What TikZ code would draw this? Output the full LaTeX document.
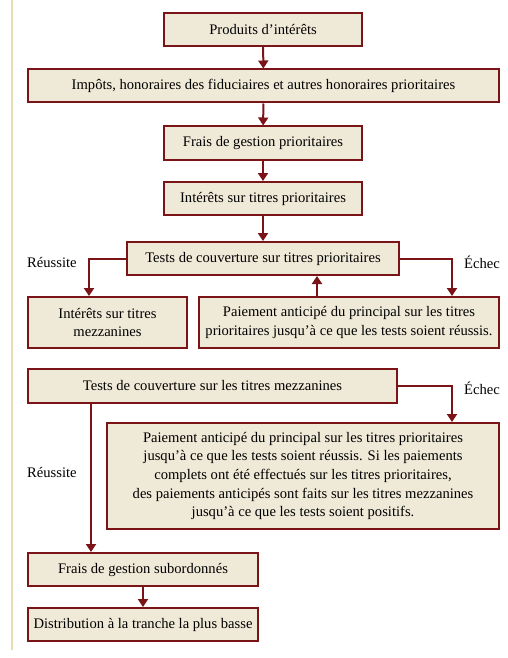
\documentclass[tikz,border=0pt]{standalone}
\usepackage{fontspec}
\setmainfont{Liberation Serif}
\usetikzlibrary{arrows.meta}
\definecolor{cadre}{HTML}{7A1416}
\definecolor{fond}{HTML}{EFE9D7}
\definecolor{marge}{HTML}{E8DCB5}
\tikzstyle{bloc} = [rectangle, draw=cadre, fill=fond, line width=2pt, align=center, inner sep=0pt, minimum height=33pt, font=\fontsize{14.6}{18.7}\selectfont]
\tikzstyle{fleche} = [line width=2pt, draw=cadre, -{Triangle[width=10pt,length=8pt]}]
\tikzstyle{etiq} = [inner sep=0pt, font=\fontsize{14.6}{16}\selectfont]

\begin{document}
\begin{tikzpicture}[x=1pt, y=-1pt]
    \useasboundingbox (0,0) rectangle (507,658);
    \draw [marge, line width=2pt] (11.5,0) -- (11.5,650);
    % colonne du haut
    \node (prod) [bloc, minimum width=198pt] at (263,29.5) {Produits d'intérêts};
    \node (impots) [bloc, minimum width=471pt] at (263.5,86) {Impôts, honoraires des fiduciaires et autres honoraires prioritaires};
    \node (fraisp) [bloc, minimum width=198pt] at (263,143) {Frais de gestion prioritaires};
    \node (interp) [bloc, minimum width=198pt] at (263,198.5) {Intérêts sur titres prioritaires};
    \node (testp) [bloc, minimum width=272pt] at (263,258.5) {Tests de couverture sur titres prioritaires};
    \node (mezz) [bloc, minimum width=159pt, minimum height=51pt] at (107.5,322.5) {Intérêts sur titres\\mezzanines};
    \node (paie) [bloc, minimum width=300pt, minimum height=51pt] at (349,322.5) {Paiement anticipé du principal sur les titres\\prioritaires jusqu'à ce que les tests soient réussis.};
    % tests mezzanines
    \node (testm) [bloc, minimum width=369pt, minimum height=34pt] at (212.5,386) {Tests de couverture sur les titres mezzanines};
    \node (grand) [bloc, minimum width=392pt, minimum height=106pt] at (303,476) {Paiement anticipé du principal sur les titres prioritaires\\jusqu'à ce que les tests soient réussis. Si les paiements\\complets ont été effectués sur les titres prioritaires,\\des paiements anticipés sont faits sur les titres mezzanines\\jusqu'à ce que les tests soient positifs.};
    \node (subord) [bloc, minimum width=230pt] at (143,569.5) {Frais de gestion subordonnés};
    \node (distrib) [bloc, minimum width=230pt] at (143,624.5) {Distribution à la tranche la plus basse};
    % etiquettes
    \node (reus1) [etiq, anchor=west] at (27,262) {Réussite};
    \node (ech1) [etiq, anchor=east] at (500,262) {Échec};
    \node (ech2) [etiq, anchor=east] at (500,388) {Échec};
    \node (reus2) [etiq, anchor=west] at (27,472) {Réussite};
    % fleches
    \draw [fleche] (prod) -- (impots);
    \draw [fleche] (impots) -- (fraisp);
    \draw [fleche] (fraisp) -- (interp);
    \draw [fleche] (interp) -- (testp);
    \draw [fleche] (testp.west) -| ([xshift=-18.5pt]mezz.north);
    \draw [fleche] (testp.east) -| ([xshift=103pt]paie.north);
    \draw [fleche] ([xshift=-32pt]paie.north) -- ([xshift=-32pt]paie.north |- testp.south);
    \draw [fleche] (testm.east) -| ([xshift=149pt]grand.north);
    \draw [fleche] ([xshift=-121.5pt]testm.south) -- ([xshift=-121.5pt]testm.south |- subord.north);
    \draw [fleche] (subord) -- (distrib);
\end{tikzpicture}
\end{document}
